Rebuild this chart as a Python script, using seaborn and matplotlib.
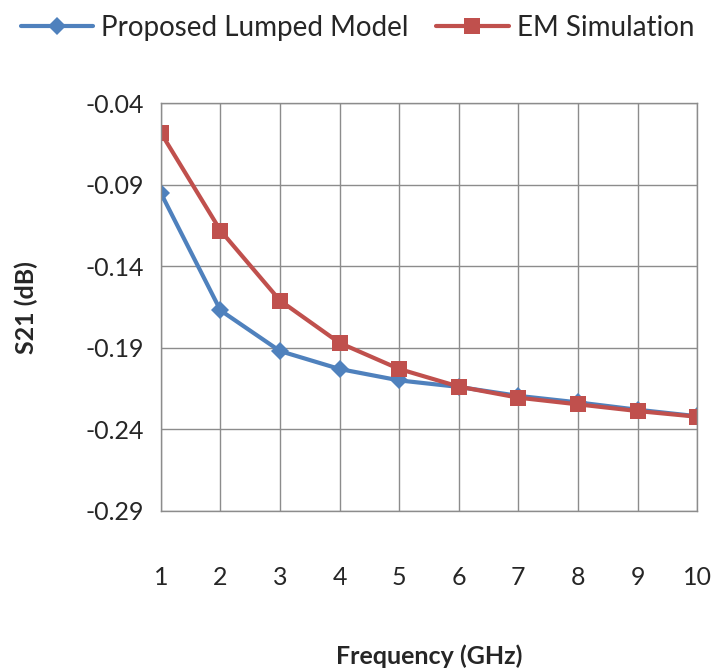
import numpy as np
import pandas as pd
import seaborn as sns
import matplotlib.pyplot as plt

freq = [1, 2, 3, 4, 5, 6, 7, 8, 9, 10]
lumped = [-0.095, -0.167, -0.192, -0.203, -0.210, -0.214, -0.2195, -0.2235, -0.228, -0.232]
em_sim = [-0.058, -0.118, -0.161, -0.187, -0.203, -0.2138, -0.2206, -0.2247, -0.2288, -0.2323]
series_names = ["Proposed Lumped Model", "EM Simulation"]
y_ticks = [-0.29, -0.24, -0.19, -0.14, -0.09, -0.04]

df = pd.DataFrame({
    "freq": freq * 2,
    "s21": lumped + em_sim,
    "series": [series_names[0]] * len(freq) + [series_names[1]] * len(freq),
})

sns.set_theme(style="white")
plt.rcParams["font.family"] = ["Lato", "DejaVu Sans"]

fig = plt.figure(figsize=(7.15, 6.72), dpi=100)
ax = fig.add_axes([0.225, 0.24, 0.75, 0.606])

palette = {series_names[0]: "#4F81BD", series_names[1]: "#C0504D"}
markers = {series_names[0]: "D", series_names[1]: "s"}
sns.lineplot(data=df, x="freq", y="s21", hue="series", style="series",
             palette=palette, markers=markers, dashes=False, linewidth=3.0,
             markersize=12, markeredgewidth=0, ax=ax)
# diamond a bit smaller than square
for line in ax.lines:
    if line.get_marker() == "D":
        line.set_markersize(9.5)

ax.set_xlim(1, 10)
ax.set_ylim(-0.29, -0.04)
ax.set_xticks(freq)
ax.set_yticks(y_ticks)
ax.set_yticklabels([f"{v:.2f}" for v in y_ticks])
ax.grid(True, color="#8c8c8c", linewidth=1.0)
for s in ax.spines.values():
    s.set_color("#8c8c8c")
    s.set_linewidth(1.0)
ax.tick_params(axis="x", labelsize=18, pad=40, length=0)
ax.tick_params(axis="y", labelsize=18, pad=12, length=0)
ax.set_xlabel("Frequency (GHz)", fontsize=18, fontweight="bold", labelpad=40)
ax.set_ylabel("S21 (dB)", fontsize=18, fontweight="bold", labelpad=34)

handles, labels = ax.get_legend_handles_labels()
ax.get_legend().remove()
fig.legend(handles, labels, loc="upper center", bbox_to_anchor=(0.5, 1.015),
           ncol=2, frameon=False, fontsize=20, handlelength=2.6,
           columnspacing=1.0, handletextpad=0.3)

fig.savefig("out.png", dpi=100)
